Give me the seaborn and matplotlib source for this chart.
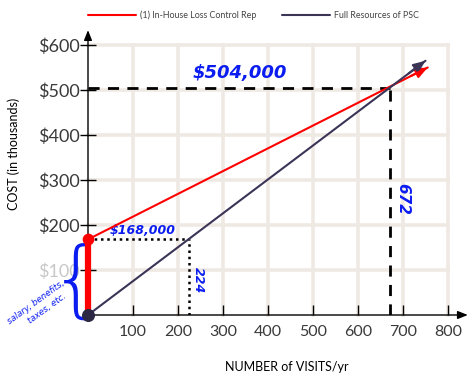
import matplotlib
matplotlib.use("Agg")
import matplotlib.pyplot as plt
import numpy as np
import pandas as pd
import seaborn as sns

# series endpoints (visits/yr, cost in $ thousands)
in_house_x = [0, 755]
in_house_y = [168, 550]
psc_x = [0, 750]
psc_y = [0, 565]

fixed_cost = 168
fixed_visits = 224
break_even_visits = 672
break_even_cost = 504

x_ticks = [100, 200, 300, 400, 500, 600, 700, 800]
y_ticks = [100, 200, 300, 400, 500, 600]
y_tick_labels = ["$100", "$200", "$300", "$400", "$500", "$600"]

sns.set_theme(style="white")
plt.rcParams["font.family"] = ["Lato", "DejaVu Sans"]

RED = "#ff0000"
NAVY = "#3b3457"
BLUE = "#0a1cf0"
GRID = "#efe9e3"

fig = plt.figure(figsize=(4.76, 3.74), dpi=100)
ax = fig.add_axes([88 / 476, 59 / 374, 360 / 476, 270 / 374])
ax.set_xlim(0, 800)
ax.set_ylim(0, 600)
for s in ["top", "right", "left", "bottom"]:
    ax.spines[s].set_visible(False)

# grid
for xv in x_ticks:
    ax.plot([xv, xv], [0, 600], color=GRID, lw=2.6, zorder=0, clip_on=False,
            solid_capstyle="projecting")
for yv in y_ticks:
    ax.plot([0, 800], [yv, yv], color=GRID, lw=2.6, zorder=0, clip_on=False,
            solid_capstyle="projecting")

# axes with arrows
ax.annotate("", xy=(0, 633), xytext=(0, 0), annotation_clip=False,
            arrowprops=dict(arrowstyle="-|>,head_length=0.5,head_width=0.2",
                            color="black", lw=1, shrinkA=0, shrinkB=0))
ax.annotate("", xy=(844, 0), xytext=(0, 0), annotation_clip=False,
            arrowprops=dict(arrowstyle="-|>,head_length=0.5,head_width=0.2",
                            color="black", lw=1, shrinkA=0, shrinkB=0))

ax.set_xticks(x_ticks)
ax.set_yticks(y_ticks)
ax.set_yticklabels(y_tick_labels)
ax.tick_params(axis="x", direction="in", length=7, width=1, color="black",
               labelsize=11.5, labelcolor="#3a3a3a", pad=7, bottom=True)
ax.tick_params(axis="y", direction="inout", length=12, width=1, color="black",
               labelsize=13, labelcolor="#3a3a3a", pad=0, left=True)
ax.get_yticklabels()[0].set_color("#c8c8c8")

# reference lines
ax.plot([0, break_even_visits], [break_even_cost, break_even_cost],
        color="black", lw=2, ls=(0, (4, 3)), zorder=3)
ax.plot([break_even_visits, break_even_visits], [0, break_even_cost],
        color="black", lw=2, ls=(0, (4, 3)), zorder=3)
ax.plot([0, fixed_visits], [fixed_cost, fixed_cost],
        color="black", lw=1.8, ls=(0, (1, 1.5)), zorder=3)
ax.plot([fixed_visits, fixed_visits], [0, fixed_cost],
        color="black", lw=1.8, ls=(0, (1, 1.5)), zorder=3)

# main lines
sns.lineplot(x=in_house_x, y=in_house_y, color=RED, lw=1.5, ax=ax,
             label="(1) In-House Loss Control Rep", zorder=4)
sns.lineplot(x=psc_x, y=psc_y, color=NAVY, lw=1.5, ax=ax,
             label="Full Resources of PSC", zorder=4)
for xs, ys, c in [(in_house_x, in_house_y, RED), (psc_x, psc_y, NAVY)]:
    dx = xs[1] - xs[0]
    dy = ys[1] - ys[0]
    ax.annotate("", xy=(xs[1], ys[1]),
                xytext=(xs[1] - dx * 0.05, ys[1] - dy * 0.05),
                annotation_clip=False,
                arrowprops=dict(arrowstyle="-|>,head_length=0.6,head_width=0.25",
                                color=c, lw=1.5, shrinkA=0, shrinkB=0))

# fixed cost bar and points
ax.plot([0, 0], [0, fixed_cost], color=RED, lw=4.5, zorder=5, clip_on=False,
        solid_capstyle="butt")
ax.scatter([0], [fixed_cost], s=55, color=RED, zorder=6, clip_on=False)
ax.scatter([0], [0], s=70, color="#2c2843", zorder=6, clip_on=False)

# handwritten notes
hand = ["DejaVu Sans"]
ax.text(338, 538, "$504,000", color=BLUE, fontsize=13, fontweight="bold",
        fontstyle="italic", ha="center", va="center", family=hand)
ax.text(122, 188, "$168,000", color=BLUE, fontsize=9, fontweight="bold",
        fontstyle="italic", ha="center", va="center", family=hand)
ax.text(246, 78, "224", color=BLUE, fontsize=9, fontweight="bold",
        fontstyle="italic", ha="center", va="center", rotation=-90, family=hand)
ax.text(700, 258, "672", color=BLUE, fontsize=11, fontweight="bold",
        fontstyle="italic", ha="center", va="center", rotation=-90, family=hand)
ax.text(-25, 70, "{", color=BLUE, fontsize=60, ha="center", va="center",
        fontweight="light", clip_on=False, family=hand)
ax.text(-108, 18, "salary, benefits,\n    taxes, etc.", color=BLUE, fontsize=6.2,
        fontstyle="italic", ha="center", va="center", rotation=36,
        linespacing=1.4, clip_on=False, family=hand)

ax.set_xlabel("NUMBER of VISITS/yr", fontsize=9, color="black")
ax.set_ylabel("COST (in thousands)", fontsize=9, color="black")
ax.xaxis.set_label_coords(0.553, -0.17)
ax.yaxis.set_label_coords(-0.19, 0.596)

ax.legend(loc="center", bbox_to_anchor=(0.46, 1.111), ncol=2,
          frameon=False, fontsize=6.4, handlelength=5.4, columnspacing=2.8,
          handletextpad=0.45, labelcolor="#444444")

fig.savefig("out.png", dpi=100)
